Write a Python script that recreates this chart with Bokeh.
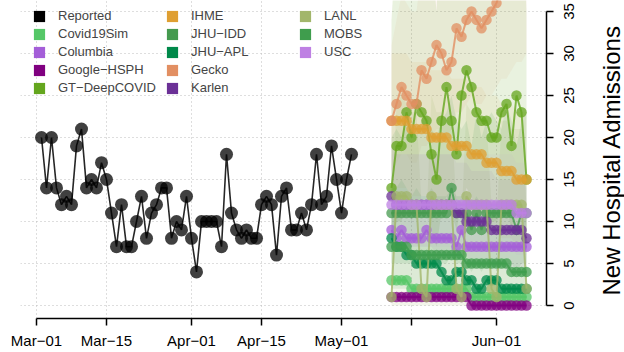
import math
import pandas as pd
from bokeh.plotting import figure
from bokeh.layouts import row
from bokeh.models import Range1d, FixedTicker, Legend, LegendItem
from bokeh.core.properties import value
from bokeh.embed import file_html
from bokeh.resources import INLINE

# ---------------- data ----------------
reported_start = "2020-03-02"
reported = [20, 14, 20, 14, 12, 13, 12, 19, 21, 14, 15, 14, 17, 15, 11, 7, 12, 7, 7, 10,
            13, 8, 11, 12, 14, 14, 8, 10, 9, 13, 8, 4, 10, 10, 10, 10, 7, 18, 11, 9,
            8, 9, 8, 8, 12, 13, 12, 6, 13, 14, 9, 9, 11, 9, 12, 18, 12, 13, 19, 15,
            11, 15, 18]

forecast_start = "2020-05-11"
covid19sim = [3, 3, 3, 3, 2, 2, 2, 2, 2, 2, 2, 2, 2, 2, 2, 2, 1, 1, 1, 1, 1, 1, 1, 1, 1, 1, 1, 1]
columbia = [9, 8, 9, 8, 8, 8, 8, 9, 8, 8, 8, 8, 8, 7, 9, 7, 7, 7, 7, 7, 7, 7, 7, 7, 7, 7, 7, 7]
google_hsph = [1, 1, 1, 1, 1, 1, 1, 1, 1, 1, 1, 1, 1, 1, 1, 1, 0, 0, 0, 0, 0, 0, 0, 0, 0, 0, 0, 0]
gt_deepcovid = [14, 19, 19, 23, 20, 24, 23, 22, 18, 15, 22, 26, 22, 18, 25, 28, 26, 23, 22, 22, 20, 20, 23, 24, 19, 25, 23, 15]
ihme = [22, 22, 22, 22, 21, 21, 21, 21, 20, 20, 20, 20, 19, 19, 19, 19, 18, 18, 18, 17, 17, 17, 16, 16, 16, 15, 15, 15]
jhu_idd = [11, 11, 11, 11, 11, 11, 11, 11, 11, 11, 11, 11, 14, 11, 11, 11, 9, 11, 9, 11, 11, 11, 11, 11, 11, 9, 11, 11]
jhu_apl = [8, 7, 7, 6, 6, 5, 5, 5, 5, 5, 4, 3, 3, 4, 4, 3, 3, 2, 2, 3, 3, 3, 2, 2, 2, 2, 2, 2]
gecko = [22, 24, 26, 25, 24, 24, 28, 27, 29, 31, 30, 28, 29, 33, 32, 34, 35, 34, 33, 34, 35, 36, 38, 39, 39, 40, 41, 42]
karlen = [13, 12, 12, 12, 12, 12, 12, 12, 12, 12, 12, 12, 12, 11, 11, 10, 10, 10, 10, 10, 9, 9, 9, 9, 9, 9, 9, 8]
lanl = [1, 13, 13, 13, 12, 12, 2, 1, 13, 12, 12, 12, 12, 2, 1, 13, 12, 12, 12, 12, 2, 1, 12, 12, 12, 12, 12, 2]
mobs = [7, 7, 7, 7, 6, 6, 6, 6, 6, 6, 6, 6, 6, 6, 6, 5, 5, 5, 5, 5, 5, 5, 5, 5, 4, 4, 4, 4]
usc = [12, 12, 12, 12, 12, 12, 12, 12, 12, 12, 12, 12, 12, 12, 12, 12, 12, 12, 12, 12, 12, 12, 12, 12, 12, 11, 11, 11]

# prediction interval ribbons (lower, upper)
gecko_lo = [16, 17, 18, 18, 17, 17, 19, 19, 20, 21, 21, 20, 21, 23, 23, 24, 25, 24, 24, 25, 25, 26, 27, 27, 28, 29, 29, 30]
gecko_hi = [31, 34, 37, 36, 35, 35, 40, 39, 42, 45, 44, 41, 42, 48, 47, 50, 52, 50, 48, 50, 52, 53, 55, 57, 57, 59, 60, 62]
gt_lo = [7, 10, 10, 12, 10, 12, 12, 11, 9, 7, 11, 13, 11, 9, 12, 14, 13, 11, 11, 11, 10, 10, 11, 12, 9, 12, 11, 7]
gt_hi = [34, 44, 44, 52, 46, 54, 52, 50, 42, 35, 50, 58, 50, 42, 56, 62, 58, 52, 50, 50, 46, 46, 52, 54, 44, 56, 52, 35]
ihme_lo = [14, 14, 14, 14, 13, 13, 13, 13, 12, 12, 12, 12, 11, 11, 11, 11, 10, 10, 10, 9, 9, 9, 8, 8, 8, 7, 7, 7]
ihme_hi = [30, 30, 30, 30, 29, 29, 29, 29, 28, 28, 28, 28, 27, 27, 27, 27, 26, 26, 26, 25, 25, 25, 24, 24, 24, 23, 23, 23]
lanl_lo = [0, 0, 0, 0, 0, 0, 0, 0, 0, 0, 0, 0, 0, 0, 0, 0, 0, 0, 0, 0, 0, 0, 0, 0, 0, 0, 0, 0]
lanl_hi = [10, 24, 25, 24, 23, 23, 12, 10, 25, 23, 23, 22, 22, 12, 10, 24, 23, 22, 22, 22, 12, 10, 22, 22, 21, 21, 21, 12]
jhu_idd_lo = [5, 5, 5, 5, 5, 5, 5, 5, 5, 5, 5, 5, 6, 5, 5, 5, 4, 5, 4, 5, 5, 5, 5, 5, 5, 4, 5, 5]
jhu_idd_hi = [20, 21, 20, 22, 21, 20, 22, 23, 21, 20, 22, 23, 25, 22, 21, 22, 19, 23, 20, 22, 23, 22, 21, 24, 22, 19, 22, 23]
mobs_lo = [2, 2, 2, 2, 2, 2, 1, 1, 1, 1, 1, 1, 1, 1, 1, 1, 1, 1, 1, 1, 1, 1, 0, 0, 0, 0, 0, 0]
mobs_hi = [14, 14, 15, 14, 13, 14, 13, 13, 14, 13, 13, 13, 14, 13, 13, 12, 12, 13, 12, 12, 12, 12, 12, 12, 11, 11, 11, 11]
karlen_lo = [8, 7, 7, 7, 7, 7, 7, 7, 7, 6, 6, 6, 6, 6, 6, 6, 5, 5, 5, 5, 5, 5, 5, 4, 4, 4, 4, 4]
karlen_hi = [19, 18, 18, 18, 18, 18, 18, 18, 18, 18, 18, 18, 18, 17, 17, 17, 16, 16, 16, 16, 16, 15, 15, 15, 15, 15, 15, 14]
usc_lo = [7, 7, 7, 7, 7, 7, 7, 7, 7, 7, 7, 7, 7, 7, 7, 7, 7, 7, 7, 7, 7, 7, 7, 7, 7, 6, 6, 6]
usc_hi = [18, 18, 18, 18, 18, 18, 18, 18, 18, 18, 18, 18, 18, 18, 18, 18, 18, 18, 18, 18, 18, 18, 18, 18, 18, 17, 17, 17]

x_tick_dates = ["2020-03-01", "2020-03-15", "2020-04-01", "2020-04-15", "2020-05-01", "2020-05-15", "2020-06-01"]
x_tick_labels = ["Mar\u221201", "Mar\u221215", "Apr\u221201", "Apr\u221215", "May\u221201", "", "Jun\u221201"]
y_ticks = [0, 5, 10, 15, 20, 25, 30, 35]
y_tick_labels = ["0", "5", "10", "15", "20", "25", "30", "35"]
y_title = "New Hospital Admissions"

legend_names = ["Reported", "Covid19Sim", "Columbia", "Google\u2212HSPH", "GT\u2212DeepCOVID",
                "IHME", "JHU\u2212IDD", "JHU\u2212APL", "Gecko", "Karlen",
                "LANL", "MOBS", "USC"]
legend_colors = ["#000000", "#55C767", "#A45ED8", "#800080", "#64A61E",
                 "#DF9F32", "#459A4F", "#00894A", "#E28F62", "#6B3096",
                 "#A2B66B", "#3F9D4D", "#BE80E3"]

# ---------------- main figure ----------------
FONT = "Liberation Sans"
x0 = pd.Timestamp("2020-03-01")
rep_dates = pd.date_range(reported_start, periods=len(reported), freq="D")
fc_dates = pd.date_range(forecast_start, periods=len(ihme), freq="D")

yr = Range1d(-1.55, 36.31)
p = figure(width=560, height=352, output_backend="svg", toolbar_location=None,
           x_axis_type="datetime", y_axis_location="right",
           x_range=Range1d(x0 - pd.Timedelta(days=3.2), x0 + pd.Timedelta(days=102)),
           y_range=yr,
           min_border_left=20, min_border_right=14, min_border_top=0, min_border_bottom=34)
p.outline_line_color = None
p.background_fill_color = "white"
p.border_fill_color = "white"

def ms(d):
    return float(pd.Timestamp(d).value // 10**6)

xt = [ms(d) for d in x_tick_dates]
p.xaxis.ticker = FixedTicker(ticks=xt)
p.xaxis.major_label_overrides = {t: lab for t, lab in zip(xt, x_tick_labels)}
p.xaxis.bounds = (xt[0], xt[-1])
p.yaxis.ticker = FixedTicker(ticks=y_ticks)
p.yaxis.bounds = (y_ticks[0], y_ticks[-1])

for ax in (p.xaxis, p.yaxis):
    ax.axis_line_color = "black"
    ax.axis_line_width = 1.5
    ax.major_tick_line_color = "black"
    ax.major_tick_line_width = 1.5
    ax.major_tick_in = 0
    ax.major_tick_out = 7
    ax.minor_tick_line_color = None
    ax.major_label_text_font = FONT
    ax.major_label_text_font_size = "15px"
    ax.major_label_text_color = "black"

p.xaxis.major_label_standoff = 6
# y tick labels are drawn (rotated, bottom-to-top) in the side panel figure
p.yaxis.major_label_text_font_size = "1px"
p.yaxis.major_label_text_color = None
p.yaxis.major_label_standoff = 0

p.xgrid.ticker = FixedTicker(ticks=xt)
p.ygrid.ticker = FixedTicker(ticks=y_ticks)
for g in (p.xgrid, p.ygrid):
    g.grid_line_color = "#BDBDBD"
    g.grid_line_dash = "1 3"
    g.grid_line_width = 1

# legend proxies (filled squares, no visible data)
nan = float("nan")
items = []
for name, col in zip(legend_names, legend_colors):
    r = p.quad(left=[nan], right=[nan], top=[nan], bottom=[nan], fill_color=col, line_color=None)
    items.append(LegendItem(label=name, renderers=[r]))

# ribbons
ribbons = [(gecko_lo, gecko_hi, "#E28F62", 0.08), (gt_lo, gt_hi, "#64A61E", 0.14),
           (ihme_lo, ihme_hi, "#DF9F32", 0.08), (lanl_lo, lanl_hi, "#A2B66B", 0.14),
           (jhu_idd_lo, jhu_idd_hi, "#459A4F", 0.12), (mobs_lo, mobs_hi, "#3F9D4D", 0.12),
           (karlen_lo, karlen_hi, "#6B3096", 0.05), (usc_lo, usc_hi, "#BE80E3", 0.06)]
for lo, hi, col, a in ribbons:
    p.varea(x=fc_dates, y1=lo, y2=hi, fill_color=col, fill_alpha=a)

# reported
p.line(rep_dates, reported, line_color="black", line_width=1.6, line_alpha=0.85)
p.scatter(rep_dates, reported, size=13, fill_color="black", fill_alpha=0.75, line_color=None)

# forecasts
series = [covid19sim, columbia, google_hsph, gt_deepcovid, ihme, jhu_idd, jhu_apl,
          gecko, karlen, lanl, mobs, usc]
for vals, col in zip(series, legend_colors[1:]):
    p.line(fc_dates, vals, line_color=col, line_width=2, line_alpha=0.8)
    p.scatter(fc_dates, vals, size=10.5, fill_color=col, fill_alpha=0.75, line_color=None)

leg = Legend(items=items, location=(12, 223), orientation="vertical", nrows=5,
             glyph_width=14, glyph_height=14, label_standoff=12, spacing=3,
             label_width=104, label_height=14, padding=0, margin=0,
             label_text_font=FONT, label_text_font_size="13px",
             background_fill_alpha=0, border_line_alpha=0)
p.add_layout(leg)

# ---------------- side panel: y tick labels + y title ----------------
SIDE_W = 64
side = figure(width=SIDE_W, height=352, output_backend="svg", toolbar_location=None,
              x_range=Range1d(0, SIDE_W), y_range=yr, x_axis_type=None, y_axis_type=None,
              min_border_left=0, min_border_right=0, min_border_top=0, min_border_bottom=34)
side.outline_line_color = None
side.xgrid.visible = False
side.ygrid.visible = False
side.border_fill_color = "white"
side.background_fill_color = "white"

side.text(x=[8] * len(y_ticks), y=y_ticks, text=y_tick_labels, angle=math.pi / 2,
          text_align="center", text_baseline="middle",
          text_font=value(FONT), text_font_size=value("15px"), text_color="black")
side.text(x=[51], y=[17.3], text=[y_title], angle=math.pi / 2,
          text_align="center", text_baseline="middle",
          text_font=value(FONT), text_font_size=value("24px"), text_color="black")

layout = row(p, side, spacing=0)
open("out.html", "w").write(file_html(layout, INLINE))
